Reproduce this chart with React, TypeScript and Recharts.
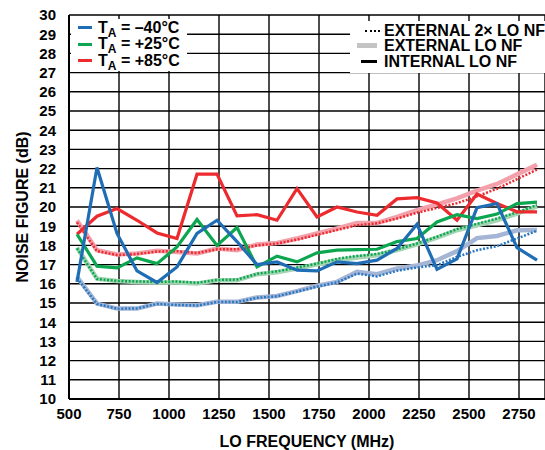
import React from 'react';
import { LineChart, Line, XAxis, YAxis, CartesianGrid } from 'recharts';

// LO frequency sweep points (MHz)
const freqs = [540, 640, 740, 840, 940, 1040, 1140, 1240, 1340, 1440, 1540, 1640, 1740, 1840, 1940, 2040, 2140, 2240, 2340, 2440, 2540, 2640, 2740, 2840];

// internal LO noise figure (dB)
const intM40 = [16.1, 22.06, 18.62, 16.67, 16.07, 16.88, 18.62, 19.31, 18.2, 17.0, 17.14, 16.71, 16.67, 17.14, 17.05, 17.23, 17.84, 19.1, 16.75, 17.3, 19.97, 20.18, 17.88, 17.23];
const intP25 = [18.58, 16.92, 16.83, 17.35, 17.05, 17.92, 19.35, 18.0, 18.93, 16.88, 17.44, 17.14, 17.61, 17.75, 17.78, 17.8, 18.2, 18.36, 19.22, 19.6, 19.4, 19.63, 20.18, 20.25];
const intP85 = [18.58, 19.52, 19.92, 19.31, 18.65, 18.36, 21.71, 21.71, 19.54, 19.6, 19.31, 20.96, 19.48, 20.0, 19.74, 19.57, 20.42, 20.49, 20.21, 19.31, 20.68, 20.18, 19.75, 19.75];

// external LO noise figure (dB)
const extM40 = [16.36, 14.97, 14.71, 14.71, 14.97, 14.92, 14.88, 15.06, 15.06, 15.29, 15.37, 15.62, 15.9, 16.1, 16.62, 16.5, 16.8, 16.95, 17.23, 17.7, 18.38, 18.49, 18.79, 18.8];
const extP25 = [17.89, 16.27, 16.15, 16.1, 16.07, 16.07, 16.01, 16.18, 16.18, 16.5, 16.6, 16.79, 17.02, 17.23, 17.37, 17.49, 17.75, 18.06, 18.41, 18.79, 19.05, 19.31, 19.66, 20.03];
const extP85 = [19.3, 17.75, 17.53, 17.58, 17.72, 17.66, 17.58, 17.84, 17.75, 18.05, 18.13, 18.36, 18.62, 18.88, 19.17, 19.17, 19.48, 19.83, 20.14, 20.45, 20.85, 21.2, 21.7, 22.2];

// external 2x LO noise figure (dB)
const ext2M40 = [16.3, 14.95, 14.7, 14.72, 14.95, 14.9, 14.87, 15.05, 15.05, 15.27, 15.35, 15.6, 15.85, 16.07, 16.53, 16.38, 16.68, 16.85, 16.97, 17.4, 17.75, 17.96, 18.36, 18.76];
const ext2P25 = [17.85, 16.25, 16.15, 16.12, 16.1, 16.12, 16.05, 16.2, 16.22, 16.52, 16.65, 16.85, 17.05, 17.3, 17.45, 17.55, 17.8, 18.1, 18.45, 18.85, 19.12, 19.4, 19.72, 20.1];
const ext2P85 = [19.2, 17.7, 17.5, 17.55, 17.68, 17.7, 17.6, 17.8, 17.8, 18.0, 18.1, 18.3, 18.55, 18.8, 19.05, 19.15, 19.4, 19.7, 19.95, 20.2, 20.55, 20.95, 21.45, 21.95];

const xTicks = [500, 750, 1000, 1250, 1500, 1750, 2000, 2250, 2500, 2750];
const yTicks = [10, 11, 12, 13, 14, 15, 16, 17, 18, 19, 20, 21, 22, 23, 24, 25, 26, 27, 28, 29, 30];

const tempLabels = ['–40°C', '+25°C', '+85°C'];
const modeLabels = ['EXTERNAL 2× LO NF', 'EXTERNAL LO NF', 'INTERNAL LO NF'];

const data = freqs.map((f, i) => ({
  f,
  intM40: intM40[i], intP25: intP25[i], intP85: intP85[i],
  extM40: extM40[i], extP25: extP25[i], extP85: extP85[i],
  ext2M40: ext2M40[i], ext2P25: ext2P25[i], ext2P85: ext2P85[i],
}));

const BLUE = '#1f6db5';
const GREEN = '#0ba64f';
const RED = '#ed2a2e';

// drawn bottom to top
const series = [
  { key: 'extP85', color: '#f3a0ab', width: 4.5 },
  { key: 'extP25', color: '#a3d5b3', width: 4.5 },
  { key: 'extM40', color: '#a4b5d6', width: 4.5 },
  { key: 'ext2P85', color: RED, width: 2.5, dash: '2 1.6' },
  { key: 'ext2P25', color: GREEN, width: 2.5, dash: '2 1.6' },
  { key: 'ext2M40', color: '#2a78c2', width: 2.5, dash: '2 1.6' },
  { key: 'intP85', color: RED, width: 3.2 },
  { key: 'intP25', color: GREEN, width: 3.2 },
  { key: 'intM40', color: BLUE, width: 3.2 },
];

const tickStyle = { fontSize: 15, fontWeight: 'bold', fill: '#000' };
const font = '"Liberation Sans", Arial, sans-serif';

const App: React.FC = () => {
  const tempColors = [BLUE, GREEN, RED];
  return (
    <div style={{ position: 'absolute', left: 0, top: 0, width: 545, height: 450, fontFamily: font, background: '#fff', overflow: 'hidden' }}>
      <LineChart width={545} height={450} data={data} margin={{ top: 15, right: 0, bottom: 0, left: 0 }}>
        <CartesianGrid stroke="#000" strokeWidth={1.4} />
        <XAxis
          type="number"
          dataKey="f"
          domain={[500, 2880]}
          ticks={xTicks}
          interval={0}
          height={51}
          tickSize={0}
          tickMargin={9}
          tickLine={false}
          axisLine={{ stroke: '#000', strokeWidth: 2 }}
          tick={tickStyle}
          allowDataOverflow
          label={{ value: 'LO FREQUENCY (MHz)', position: 'insideBottom', offset: 3, style: { fontSize: 16, fontWeight: 'bold', fill: '#000' } }}
        />
        <YAxis
          type="number"
          domain={[10, 30]}
          ticks={yTicks}
          interval={0}
          width={69}
          tickSize={0}
          tickMargin={13}
          tickLine={false}
          axisLine={{ stroke: '#000', strokeWidth: 2 }}
          tick={tickStyle}
          allowDataOverflow
          label={{ value: 'NOISE FIGURE (dB)', angle: -90, position: 'insideLeft', offset: 22, style: { textAnchor: 'middle', fontSize: 16, fontWeight: 'bold', fill: '#000' } }}
        />
        {series.map((s) => (
          <Line
            key={s.key}
            type="linear"
            dataKey={s.key}
            stroke={s.color}
            strokeWidth={s.width}
            strokeDasharray={s.dash}
            dot={false}
            activeDot={false}
            isAnimationActive={false}
          />
        ))}
      </LineChart>

      {/* temperature legend */}
      <div style={{ position: 'absolute', left: 71, top: 19, width: 116, height: 52, background: '#fff', fontSize: 16, fontWeight: 'bold' }}>
        {tempLabels.map((t, i) => (
          <div key={t} style={{ position: 'absolute', left: 0, top: i * 16.5, height: 17, display: 'flex', alignItems: 'center', whiteSpace: 'nowrap' }}>
            <span style={{ display: 'inline-block', width: 14, height: 3, background: tempColors[i], marginLeft: 7, marginRight: 6 }} />
            <span>T<span style={{ fontSize: 12, position: 'relative', top: 4 }}>A</span> = {t}</span>
          </div>
        ))}
      </div>

      {/* LO mode legend */}
      <div style={{ position: 'absolute', left: 350, top: 21, width: 210, height: 52, background: '#fff', fontSize: 16, fontWeight: 'bold', lineHeight: '15px' }}>
        {modeLabels.map((m, i) => (
          <div key={m} style={{ position: 'absolute', left: 0, top: 2 + i * 15.3, height: 15, display: 'flex', alignItems: 'center', whiteSpace: 'nowrap' }}>
            <span style={{ display: 'inline-block', width: 30, marginRight: 4, position: 'relative', height: 6, flexShrink: 0 }}>
              {i === 0 && <span style={{ position: 'absolute', left: 15, top: 2, width: 15, borderTop: '2px dotted #000' }} />}
              {i === 1 && <span style={{ position: 'absolute', left: 7, top: 0.5, width: 20, height: 5, background: '#c4c4c4' }} />}
              {i === 2 && <span style={{ position: 'absolute', left: 11, top: 1.5, width: 16, height: 3, background: '#000' }} />}
            </span>
            <span>{m}</span>
          </div>
        ))}
      </div>
    </div>
  );
};

export default App;
